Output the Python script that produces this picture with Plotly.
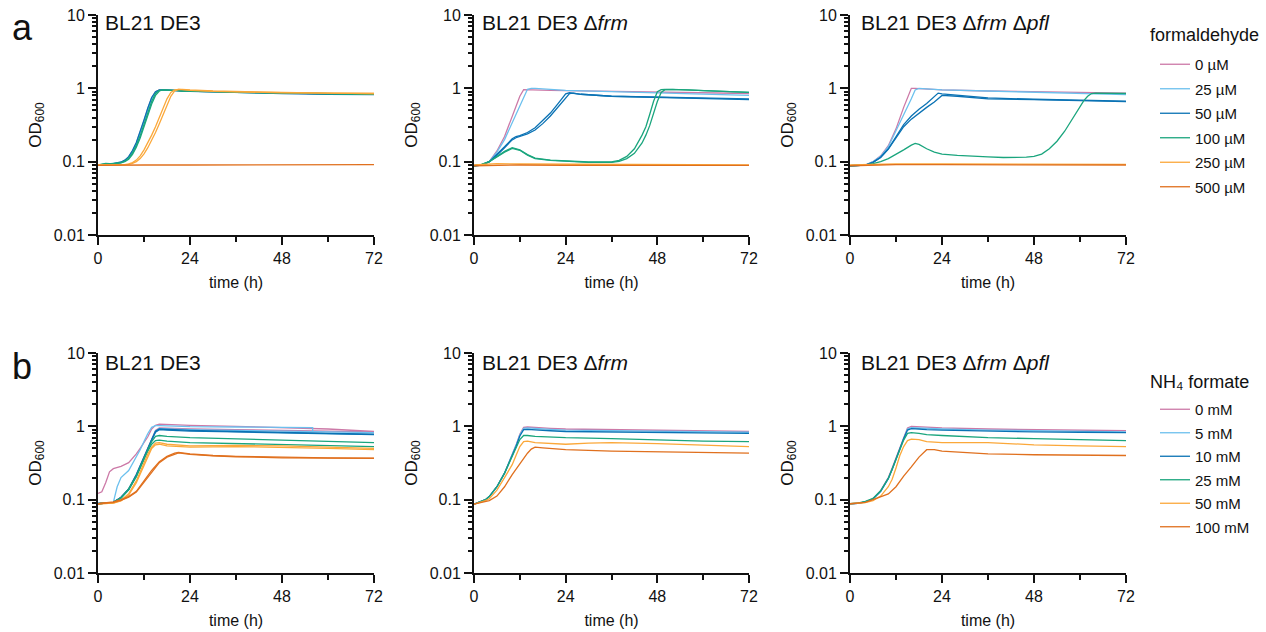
import plotly.graph_objects as go

W, H = 1266, 632

# ---------------- data ----------------
FORM_LABELS = ["0 µM", "25 µM", "50 µM", "100 µM", "250 µM", "500 µM"]
NH4_LABELS = ["0 mM", "5 mM", "10 mM", "25 mM", "50 mM", "100 mM"]
COLORS = ["#CC79A7", "#6CC0EE", "#0A72B4", "#1AA57D", "#FBA83A", "#E0701E"]

FLAT_T = [0, 6, 12, 24, 36, 48, 60, 72]

# panel a1 : BL21 DE3 + formaldehyde
A1_T = [0, 2, 4, 6, 7, 8, 9, 10, 11, 12, 13, 14, 15, 16, 17, 18, 19, 20, 21, 22, 24, 30, 36, 48, 60, 72]
A1_0 = [0.09, 0.092, 0.093, 0.098, 0.104, 0.116, 0.14, 0.18, 0.25, 0.36, 0.53, 0.74, 0.9, 0.95, 0.95, 0.95, 0.94, 0.93, 0.93, 0.93, 0.92, 0.9, 0.88, 0.86, 0.84, 0.83]
A1_25 = [0.089, 0.091, 0.093, 0.097, 0.103, 0.114, 0.137, 0.176, 0.245, 0.35, 0.51, 0.72, 0.88, 0.94, 0.95, 0.95, 0.94, 0.93, 0.93, 0.92, 0.92, 0.9, 0.88, 0.86, 0.84, 0.83]
A1_50 = [0.09, 0.092, 0.094, 0.099, 0.105, 0.117, 0.142, 0.183, 0.255, 0.37, 0.54, 0.75, 0.9, 0.95, 0.95, 0.94, 0.93, 0.93, 0.92, 0.92, 0.91, 0.89, 0.87, 0.85, 0.83, 0.82]
A1_100 = [0.09, 0.095, 0.093, 0.096, 0.1, 0.108, 0.126, 0.158, 0.21, 0.3, 0.43, 0.61, 0.8, 0.92, 0.95, 0.95, 0.94, 0.93, 0.93, 0.92, 0.92, 0.9, 0.88, 0.86, 0.84, 0.83]
A1_100B = [0.09, 0.092, 0.093, 0.097, 0.102, 0.112, 0.132, 0.167, 0.225, 0.32, 0.47, 0.66, 0.85, 0.94, 0.95, 0.95, 0.94, 0.93, 0.93, 0.92, 0.92, 0.9, 0.88, 0.86, 0.84, 0.83]
A1_250 = [0.09, 0.09, 0.09, 0.09, 0.091, 0.093, 0.097, 0.105, 0.12, 0.145, 0.18, 0.23, 0.3, 0.4, 0.53, 0.72, 0.88, 0.95, 0.97, 0.96, 0.94, 0.91, 0.89, 0.87, 0.86, 0.85]
A1_250B = [0.09, 0.09, 0.09, 0.09, 0.09, 0.092, 0.095, 0.1, 0.11, 0.128, 0.155, 0.195, 0.25, 0.33, 0.44, 0.59, 0.78, 0.92, 0.97, 0.97, 0.95, 0.92, 0.9, 0.88, 0.86, 0.85]
A1_500 = [0.089, 0.09, 0.09, 0.09, 0.09, 0.091, 0.091, 0.091]

# panel a2 : BL21 DE3 Δfrm + formaldehyde
A2_0_T = [0, 2, 4, 6, 8, 10, 12, 13, 14, 16, 20, 24, 36, 48, 60, 72]
A2_0 = [0.088, 0.09, 0.1, 0.14, 0.22, 0.42, 0.78, 0.96, 0.96, 0.95, 0.94, 0.93, 0.91, 0.89, 0.87, 0.85]
A2_25_T = [0, 2, 4, 6, 8, 10, 12, 13, 14, 15, 16, 20, 24, 36, 48, 60, 72]
A2_25 = [0.088, 0.09, 0.1, 0.135, 0.2, 0.34, 0.56, 0.72, 0.97, 1.0, 1.0, 0.97, 0.94, 0.9, 0.86, 0.83, 0.8]
A2_50_T = [0, 2, 4, 6, 8, 10, 11, 12, 14, 16, 18, 20, 22, 23, 24, 25, 28, 36, 48, 60, 72]
A2_50 = [0.088, 0.09, 0.1, 0.125, 0.16, 0.205, 0.22, 0.226, 0.25, 0.29, 0.36, 0.46, 0.62, 0.73, 0.84, 0.87, 0.83, 0.78, 0.75, 0.73, 0.7]
A2_50B_T = [0, 2, 4, 6, 8, 10, 11, 12, 14, 16, 18, 20, 22, 24, 25, 26, 28, 36, 48, 60, 72]
A2_50B = [0.088, 0.09, 0.1, 0.122, 0.155, 0.198, 0.212, 0.22, 0.24, 0.27, 0.33, 0.42, 0.55, 0.72, 0.85, 0.86, 0.83, 0.78, 0.76, 0.74, 0.72]
A2_100_T = [0, 2, 4, 6, 8, 10, 12, 14, 16, 20, 24, 30, 36, 38, 40, 42, 44, 45, 46, 47, 48, 49, 50, 52, 56, 60, 66, 72]
A2_100 = [0.088, 0.092, 0.1, 0.118, 0.138, 0.155, 0.145, 0.125, 0.112, 0.105, 0.102, 0.099, 0.099, 0.104, 0.118, 0.15, 0.23, 0.3, 0.44, 0.66, 0.9, 0.96, 0.97, 0.97, 0.95, 0.93, 0.9, 0.88]
A2_100B = [0.088, 0.092, 0.1, 0.116, 0.135, 0.152, 0.143, 0.123, 0.11, 0.104, 0.101, 0.098, 0.098, 0.101, 0.11, 0.13, 0.18, 0.23, 0.31, 0.45, 0.66, 0.88, 0.96, 0.97, 0.95, 0.93, 0.9, 0.88]
A2_250 = [0.09, 0.094, 0.093, 0.092, 0.091, 0.091, 0.09, 0.09]
A2_500 = [0.088, 0.09, 0.09, 0.089, 0.089, 0.089, 0.089, 0.089]

# panel a3 : BL21 DE3 Δfrm Δpfl + formaldehyde
A3_T = [0, 2, 4, 6, 8, 10, 12, 14, 15, 16, 17, 18, 20, 24, 36, 48, 60, 72]
A3_0 = [0.088, 0.088, 0.09, 0.1, 0.12, 0.165, 0.28, 0.55, 0.75, 1.0, 1.0, 0.99, 0.97, 0.95, 0.92, 0.9, 0.88, 0.86]
A3_25 = [0.088, 0.088, 0.09, 0.1, 0.118, 0.16, 0.26, 0.42, 0.56, 0.72, 0.95, 1.0, 0.98, 0.95, 0.92, 0.88, 0.85, 0.82]
A3_50_T = [0, 2, 4, 6, 8, 10, 12, 14, 16, 18, 20, 22, 23, 24, 28, 36, 48, 60, 72]
A3_50 = [0.088, 0.088, 0.09, 0.098, 0.115, 0.15, 0.22, 0.32, 0.42, 0.52, 0.62, 0.77, 0.86, 0.84, 0.8, 0.74, 0.71, 0.69, 0.67]
A3_50B = [0.088, 0.088, 0.09, 0.098, 0.114, 0.148, 0.21, 0.3, 0.38, 0.46, 0.55, 0.65, 0.72, 0.8, 0.78, 0.72, 0.7, 0.68, 0.66]
A3_100_T = [0, 4, 6, 8, 10, 12, 14, 16, 17, 18, 20, 22, 24, 28, 32, 36, 40, 44, 46, 48, 50, 52, 54, 56, 58, 60, 61, 62, 63, 64, 66, 72]
A3_100 = [0.088, 0.09, 0.094, 0.1, 0.11, 0.125, 0.145, 0.168, 0.177, 0.172, 0.15, 0.135, 0.127, 0.122, 0.118, 0.116, 0.114, 0.114, 0.115, 0.118, 0.127, 0.15, 0.19, 0.26, 0.38, 0.56, 0.68, 0.78, 0.85, 0.86, 0.86, 0.85]
A3_250 = [0.09, 0.092, 0.093, 0.093, 0.093, 0.093, 0.093, 0.092]
A3_500 = [0.088, 0.09, 0.091, 0.091, 0.091, 0.091, 0.09, 0.09]

# panel b1 : BL21 DE3 + NH4 formate
B_T = [0, 2, 4, 6, 8, 10, 11, 12, 13, 14, 15, 16, 18, 24, 36, 48, 60, 72]
B1_0_T = [0, 1, 2, 3, 4, 6, 8, 10, 11, 12, 13, 14, 15, 16, 18, 20, 24, 36, 48, 56, 60, 72]
B1_0 = [0.122, 0.128, 0.17, 0.24, 0.265, 0.285, 0.32, 0.42, 0.5, 0.6, 0.72, 0.92, 1.03, 1.07, 1.06, 1.05, 1.03, 1.0, 0.97, 0.95, 0.92, 0.85]
B1_0B = [0.088, 0.089, 0.092, 0.108, 0.14, 0.22, 0.29, 0.38, 0.5, 0.68, 0.88, 0.95, 0.94, 0.92, 0.9, 0.88, 0.86, 0.84]
B1_5_T = [0, 2, 4, 5, 6, 8, 10, 11, 12, 13, 14, 15, 16, 20, 24, 36, 48, 56, 56]
B1_5 = [0.09, 0.09, 0.092, 0.15, 0.2, 0.25, 0.38, 0.48, 0.62, 0.8, 0.97, 1.02, 1.02, 1.0, 0.99, 0.98, 0.97, 0.96, 0.86]
B1_5B = [0.088, 0.089, 0.092, 0.107, 0.138, 0.215, 0.285, 0.37, 0.49, 0.66, 0.86, 0.93, 0.92, 0.9, 0.88, 0.86, 0.84, 0.82]
B1_10 = [0.088, 0.089, 0.092, 0.108, 0.14, 0.22, 0.29, 0.38, 0.5, 0.68, 0.86, 0.92, 0.91, 0.88, 0.85, 0.82, 0.8, 0.78]
B1_10B = [0.088, 0.089, 0.092, 0.106, 0.136, 0.21, 0.28, 0.37, 0.48, 0.65, 0.83, 0.9, 0.89, 0.86, 0.84, 0.81, 0.79, 0.77]
B1_25 = [0.088, 0.089, 0.092, 0.106, 0.14, 0.21, 0.28, 0.36, 0.48, 0.62, 0.73, 0.75, 0.73, 0.7, 0.67, 0.64, 0.62, 0.6]
B1_25B = [0.088, 0.089, 0.092, 0.105, 0.137, 0.205, 0.27, 0.35, 0.46, 0.57, 0.64, 0.65, 0.63, 0.6, 0.58, 0.56, 0.54, 0.53]
B1_50 = [0.088, 0.089, 0.09, 0.098, 0.12, 0.18, 0.24, 0.32, 0.42, 0.52, 0.59, 0.6, 0.57, 0.54, 0.55, 0.54, 0.52, 0.5]
B1_50B = [0.088, 0.088, 0.09, 0.096, 0.116, 0.17, 0.225, 0.3, 0.4, 0.5, 0.56, 0.57, 0.54, 0.52, 0.53, 0.52, 0.5, 0.48]
B1_100_T = [0, 2, 4, 6, 8, 10, 12, 14, 16, 18, 20, 21, 24, 30, 36, 48, 60, 72]
B1_100 = [0.088, 0.09, 0.093, 0.1, 0.11, 0.13, 0.18, 0.25, 0.33, 0.39, 0.43, 0.44, 0.42, 0.4, 0.39, 0.377, 0.372, 0.368]
B1_100B = [0.088, 0.09, 0.092, 0.098, 0.108, 0.127, 0.175, 0.24, 0.32, 0.38, 0.42, 0.435, 0.415, 0.395, 0.385, 0.372, 0.368, 0.365]

# panel b2 : BL21 DE3 Δfrm + NH4 formate
B2_T = [0, 2, 3, 4, 6, 8, 10, 11, 12, 13, 14, 16, 20, 24, 36, 48, 60, 72]
B2_0 = [0.087, 0.095, 0.1, 0.11, 0.15, 0.23, 0.4, 0.55, 0.78, 0.97, 0.98, 0.96, 0.94, 0.92, 0.9, 0.88, 0.86, 0.85]
B2_5 = [0.087, 0.095, 0.1, 0.11, 0.15, 0.23, 0.4, 0.55, 0.76, 0.94, 0.95, 0.93, 0.91, 0.89, 0.87, 0.85, 0.84, 0.83]
B2_10 = [0.087, 0.095, 0.1, 0.11, 0.15, 0.23, 0.39, 0.53, 0.74, 0.9, 0.91, 0.89, 0.87, 0.85, 0.84, 0.82, 0.81, 0.8]
B2_25 = [0.087, 0.095, 0.1, 0.11, 0.15, 0.23, 0.38, 0.5, 0.66, 0.75, 0.75, 0.73, 0.71, 0.7, 0.68, 0.65, 0.63, 0.62]
B2_50_T = [0, 2, 3, 4, 6, 8, 10, 11, 12, 13, 14, 16, 20, 24, 30, 36, 48, 60, 72]
B2_50 = [0.087, 0.093, 0.097, 0.103, 0.135, 0.2, 0.3, 0.4, 0.53, 0.62, 0.63, 0.6, 0.58, 0.57, 0.59, 0.6, 0.58, 0.55, 0.53]
B2_100_T = [0, 2, 4, 6, 8, 10, 12, 14, 15, 16, 18, 24, 36, 48, 60, 72]
B2_100 = [0.087, 0.092, 0.097, 0.112, 0.15, 0.22, 0.31, 0.43, 0.49, 0.52, 0.51, 0.48, 0.46, 0.45, 0.44, 0.43]

# panel b3 : BL21 DE3 Δfrm Δpfl + NH4 formate
B3_T = [0, 2, 4, 6, 8, 10, 11, 12, 13, 14, 15, 16, 18, 20, 24, 36, 48, 60, 72]
B3_0 = [0.088, 0.089, 0.093, 0.103, 0.133, 0.2, 0.27, 0.37, 0.52, 0.72, 0.95, 1.0, 0.99, 0.97, 0.95, 0.92, 0.9, 0.88, 0.87]
B3_5 = [0.088, 0.089, 0.093, 0.102, 0.13, 0.195, 0.26, 0.36, 0.5, 0.69, 0.92, 0.96, 0.95, 0.93, 0.92, 0.89, 0.87, 0.85, 0.84]
B3_10 = [0.088, 0.089, 0.093, 0.102, 0.13, 0.195, 0.26, 0.36, 0.5, 0.68, 0.89, 0.93, 0.92, 0.9, 0.89, 0.86, 0.84, 0.83, 0.82]
B3_25 = [0.088, 0.09, 0.095, 0.104, 0.132, 0.195, 0.26, 0.35, 0.48, 0.65, 0.8, 0.82, 0.8, 0.77, 0.75, 0.7, 0.68, 0.66, 0.64]
B3_50 = [0.088, 0.089, 0.091, 0.097, 0.112, 0.15, 0.19, 0.27, 0.4, 0.53, 0.64, 0.67, 0.66, 0.62, 0.6, 0.6, 0.56, 0.54, 0.53]
B3_100_T = [0, 2, 4, 6, 8, 10, 12, 14, 16, 18, 20, 22, 24, 30, 36, 48, 60, 72]
B3_100 = [0.088, 0.089, 0.092, 0.1, 0.11, 0.12, 0.15, 0.21, 0.28, 0.38, 0.48, 0.48, 0.46, 0.44, 0.42, 0.41, 0.405, 0.4]

PANEL_TITLES = ["BL21 DE3", "BL21 DE3 Δ<i>frm</i>", "BL21 DE3 Δ<i>frm</i> Δ<i>pfl</i>"]
LEGEND_TITLES = ["formaldehyde", "NH₄ formate"]
X_TICKS = [0, 24, 48, 72]
Y_TICKS = [0.01, 0.1, 1, 10]
Y_TICKTEXT = ["0.01", "0.1", "1", "10"]

# (panel index, condition index, time, OD)
CURVES = [
    (1, 0, A1_T, A1_0), (1, 1, A1_T, A1_25), (1, 2, A1_T, A1_50),
    (1, 3, A1_T, A1_100), (1, 3, A1_T, A1_100B),
    (1, 4, A1_T, A1_250), (1, 4, A1_T, A1_250B), (1, 5, FLAT_T, A1_500),
    (2, 0, A2_0_T, A2_0), (2, 1, A2_25_T, A2_25),
    (2, 2, A2_50_T, A2_50), (2, 2, A2_50B_T, A2_50B),
    (2, 3, A2_100_T, A2_100), (2, 3, A2_100_T, A2_100B),
    (2, 4, FLAT_T, A2_250), (2, 5, FLAT_T, A2_500),
    (3, 0, A3_T, A3_0), (3, 1, A3_T, A3_25),
    (3, 2, A3_50_T, A3_50), (3, 2, A3_50_T, A3_50B),
    (3, 3, A3_100_T, A3_100), (3, 4, FLAT_T, A3_250), (3, 5, FLAT_T, A3_500),
    (4, 0, B1_0_T, B1_0), (4, 0, B_T, B1_0B), (4, 1, B1_5_T, B1_5), (4, 1, B_T, B1_5B),
    (4, 2, B_T, B1_10), (4, 2, B_T, B1_10B), (4, 3, B_T, B1_25), (4, 3, B_T, B1_25B),
    (4, 4, B_T, B1_50), (4, 4, B_T, B1_50B), (4, 5, B1_100_T, B1_100), (4, 5, B1_100_T, B1_100B),
    (5, 0, B2_T, B2_0), (5, 1, B2_T, B2_5), (5, 2, B2_T, B2_10), (5, 3, B2_T, B2_25),
    (5, 4, B2_50_T, B2_50), (5, 5, B2_100_T, B2_100),
    (6, 0, B3_T, B3_0), (6, 1, B3_T, B3_5), (6, 2, B3_T, B3_10), (6, 3, B3_T, B3_25),
    (6, 4, B3_T, B3_50), (6, 5, B3_100_T, B3_100),
]

# ---------------- layout geometry (pixels) ----------------
COL_X = [(98, 374), (474, 749), (850, 1126)]
ROW_Y = [(15, 235), (353, 573)]
FONT = "Arial, 'Liberation Sans', sans-serif"
INK = "#111"


def px(x):
    return x / W


def py(y):
    return 1 - y / H


fig = go.Figure()
shown = set()
for panel, cond, t, od in CURVES:
    row = 0 if panel <= 3 else 1
    key = (row, cond)
    labels = FORM_LABELS if row == 0 else NH4_LABELS
    fig.add_trace(go.Scatter(
        x=t, y=od, mode="lines",
        line=dict(color=COLORS[cond], width=1.3),
        name=labels[cond],
        legendgroup=f"r{row}c{cond}",
        showlegend=key not in shown,
        legend="legend" if row == 0 else "legend2",
        xaxis=f"x{panel if panel > 1 else ''}",
        yaxis=f"y{panel if panel > 1 else ''}",
        hoverinfo="skip",
    ))
    shown.add(key)

minor_y = [m * 10 ** e for e in (-2, -1, 0) for m in range(2, 10)]
layout = dict(
    width=W, height=H, autosize=False,
    margin=dict(l=0, r=0, t=0, b=0, autoexpand=False),
    paper_bgcolor="white", plot_bgcolor="white",
    font=dict(family=FONT, size=16, color=INK),
    showlegend=True,
)
annotations = []
for p in range(6):
    r, c = divmod(p, 3)
    sfx = "" if p == 0 else str(p + 1)
    x0, x1 = COL_X[c]
    y0, y1 = ROW_Y[r]
    layout[f"xaxis{sfx}"] = dict(
        domain=[px(x0), px(x1)], anchor=f"y{sfx}", range=[0, 72],
        showline=True, linecolor=INK, linewidth=2, mirror=False,
        showgrid=False, zeroline=False,
        ticks="outside", ticklen=8, tickwidth=2, tickcolor=INK,
        tickvals=X_TICKS, ticktext=[str(v) for v in X_TICKS],
        tickfont=dict(size=16, family=FONT, color=INK),
        minor=dict(tickvals=[12, 36, 60], ticks="outside", ticklen=5, tickwidth=2, tickcolor=INK),
        title=dict(text="time (h)", font=dict(size=16, family=FONT, color=INK), standoff=11),
    )
    layout[f"yaxis{sfx}"] = dict(
        domain=[py(y1), py(y0)], anchor=f"x{sfx}", type="log", range=[-2, 1],
        showline=True, linecolor=INK, linewidth=2,
        showgrid=False, zeroline=False,
        ticks="outside", ticklen=8, tickwidth=2, tickcolor=INK,
        tickvals=Y_TICKS, ticktext=Y_TICKTEXT,
        tickfont=dict(size=16, family=FONT, color=INK),
        minor=dict(tickvals=minor_y, ticks="outside", ticklen=4, tickwidth=1.5, tickcolor=INK),
        title=dict(text="OD<sub>600</sub>", font=dict(size=17, family=FONT, color=INK), standoff=8),
    )
    title_x = [103, 480, 859][c]
    title_y = [23, 363][r]
    annotations.append(dict(
        text=PANEL_TITLES[c], x=px(title_x), y=py(title_y), xref="paper", yref="paper",
        xanchor="left", yanchor="middle", showarrow=False,
        font=dict(size=21, family=FONT, color=INK),
    ))

annotations.append(dict(text="a", x=px(22), y=py(27), xref="paper", yref="paper",
                        xanchor="center", yanchor="middle", showarrow=False,
                        font=dict(size=36, family=FONT, color=INK)))
annotations.append(dict(text="b", x=px(22), y=py(366), xref="paper", yref="paper",
                        xanchor="center", yanchor="middle", showarrow=False,
                        font=dict(size=36, family=FONT, color=INK)))
for i, ty in enumerate([35, 382]):
    annotations.append(dict(text=LEGEND_TITLES[i], x=px(1148), y=py(ty), xref="paper", yref="paper",
                            xanchor="left", yanchor="middle", showarrow=False,
                            font=dict(size=18, family=FONT, color=INK)))
layout["annotations"] = annotations

layout["legend"] = dict(
    x=px(1155), y=py(48), xanchor="left", yanchor="top",
    font=dict(size=15, family=FONT, color=INK),
    bgcolor="rgba(0,0,0,0)", tracegroupgap=2, itemwidth=30,
)
layout["legend2"] = dict(
    x=px(1155), y=py(393), xanchor="left", yanchor="top",
    font=dict(size=15, family=FONT, color=INK),
    bgcolor="rgba(0,0,0,0)", tracegroupgap=1, itemwidth=30,
)
fig.update_layout(**layout)
fig.write_html("out.html")
